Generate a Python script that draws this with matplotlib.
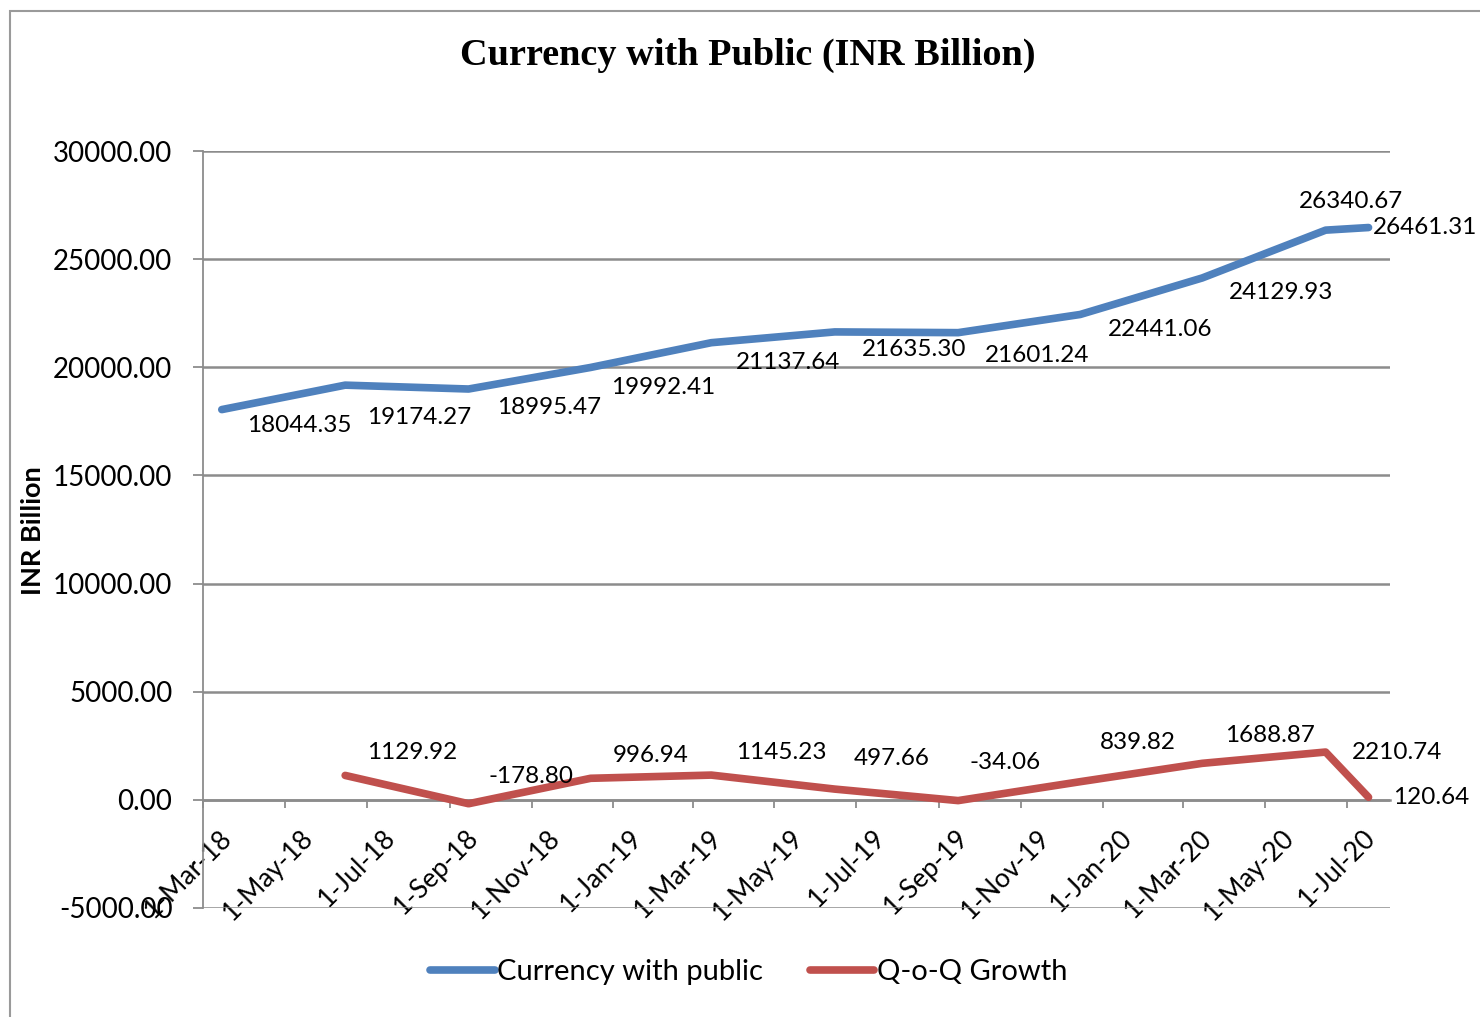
import matplotlib
matplotlib.use('Agg')
import matplotlib.pyplot as plt
import matplotlib.dates as mdates
import matplotlib.transforms as mtransforms
from matplotlib.patches import Rectangle
import numpy as np
import pandas as pd

# data
dates = pd.to_datetime(['2018-03-15', '2018-06-15', '2018-09-15', '2018-12-15',
                        '2019-03-15', '2019-06-15', '2019-09-15', '2019-12-15',
                        '2020-03-15', '2020-06-15', '2020-07-17'])
currency = [18044.35, 19174.27, 18995.47, 19992.41, 21137.64, 21635.30,
            21601.24, 22441.06, 24129.93, 26340.67, 26461.31]
qoq_growth = [np.nan, 1129.92, -178.80, 996.94, 1145.23, 497.66,
              -34.06, 839.82, 1688.87, 2210.74, 120.64]

# label offsets in pixels (dx, dy, image y goes down)
blue_off = [(78, 16), (74, 32), (81, 18), (73, 20), (77, 20), (79, 18),
            (79, 23), (80, 15), (79, 15), (25, -29), (57, 0)]
red_off = [None, (67, -23), (62, -27), (60, -23), (70, -23), (57, -31),
           (47, -38), (58, -39), (68, -28), (71, 0), (63, 0)]

blue = '#4F81BD'
red = '#C0504D'
grid_c = '#8C8C8C'
sans = ['Lato', 'DejaVu Sans']

fig = plt.figure(figsize=(14.8, 10.17), dpi=100)
ax = fig.add_axes([203/1480, 1-908/1017, (1390-203)/1480, (908-151)/1017])

# chart area border
fig.patches.append(Rectangle((10/1480, -0.1), 1.2, 1-11/1017+0.1, transform=fig.transFigure,
                             fill=False, edgecolor='#9A9A9A', linewidth=1.5))

ax.plot(dates, currency, color=blue, linewidth=5.5, solid_capstyle='round',
        solid_joinstyle='round', label='Currency with public', zorder=3)
ax.plot(dates, qoq_growth, color=red, linewidth=5.5, solid_capstyle='round',
        solid_joinstyle='round', label='Q-o-Q Growth', zorder=3)

for d, v, (dx, dy) in zip(dates, currency, blue_off):
    ax.annotate(f'{v:.2f}', (d, v), xytext=(dx, -dy), textcoords='offset pixels',
                ha='center', va='center', fontsize=17.5, family=sans)
for d, v, off in zip(dates, qoq_growth, red_off):
    if off is None:
        continue
    ax.annotate(f'{v:.2f}', (d, v), xytext=(off[0], -off[1]), textcoords='offset pixels',
                ha='center', va='center', fontsize=17.5, family=sans)

ax.set_ylim(-5000, 30000)
ax.set_yticks(np.arange(-5000, 30001, 5000))
ax.yaxis.set_major_formatter(plt.FuncFormatter(lambda v, p: f'{v:.2f}'))
ax.set_xlim(pd.Timestamp('2018-03-01'), pd.Timestamp('2020-08-02'))
ax.xaxis.set_major_locator(mdates.MonthLocator(bymonth=[1, 3, 5, 7, 9, 11], bymonthday=1))
ax.xaxis.set_major_formatter(plt.FuncFormatter(
    lambda v, p: f"{mdates.num2date(v).day}-{mdates.num2date(v).strftime('%b-%y')}"))

ax.grid(axis='y', color=grid_c, linewidth=1.8, zorder=0)
for s in ['top', 'right']:
    ax.spines[s].set_visible(False)
ax.spines['left'].set_color(grid_c)
ax.spines['left'].set_linewidth(1.3)
ax.spines['bottom'].set_position(('data', 0))
ax.spines['bottom'].set_color(grid_c)
ax.spines['bottom'].set_linewidth(1.8)

ax.tick_params(axis='y', length=7, width=1.3, color=grid_c, pad=15, labelsize=20)
ax.tick_params(axis='x', length=6, width=1.3, color=grid_c, pad=4, labelsize=19)
for lab in ax.get_yticklabels():
    lab.set_family(sans)
off = mtransforms.ScaledTranslation(0.25, -0.20, fig.dpi_scale_trans)
for lab in ax.get_xticklabels():
    lab.set_family(sans)
    lab.set_rotation(45)
    lab.set_ha('right')
    lab.set_va('center')
    lab.set_rotation_mode('anchor')
    lab.set_transform(lab.get_transform() + off)

fig.text(748/1480, 1-55/1017, 'Currency with Public (INR Billion)', ha='center', va='center',
         fontsize=27.5, fontweight='bold', family='Liberation Serif')
fig.text(33/1480, 1-531/1017, 'INR Billion', rotation=90, ha='center', va='center',
         fontsize=19.5, fontweight='bold', family=sans)

leg = fig.legend(loc='center', bbox_to_anchor=(749/1480, 1-972/1017), ncol=2, frameon=False,
                 prop={'family': sans, 'size': 21}, handlelength=2.2, handletextpad=0.1,
                 columnspacing=1.6)

fig.savefig('out.png', dpi=100, facecolor='white')
